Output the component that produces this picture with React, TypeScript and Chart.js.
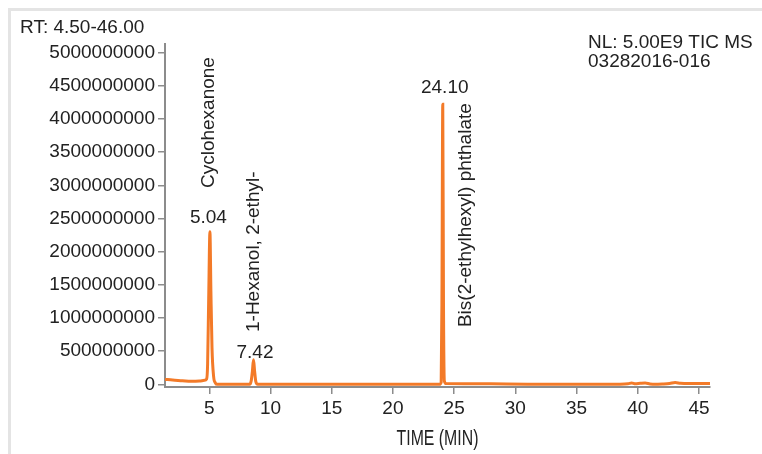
import React, { useEffect, useRef } from 'react';
import { Chart, registerables } from 'chart.js';

Chart.register(...registerables);

// ---- data ----
const retentionTimes = [
  1.38, 2.0, 2.8, 3.5, 4.2, 4.6, 4.78, 4.86, 4.95, 5.05, 5.13, 5.22, 5.35, 5.5, 5.65,
  7.0, 8.3, 8.42, 8.52, 8.61, 8.7, 8.8, 8.95, 12.0, 16.0, 20.0,
  23.8, 23.94, 24.0, 24.07, 24.13, 24.2, 24.35, 26.0, 28.0, 31.0, 35.0,
  38.5, 39.2, 39.5, 39.8, 40.2, 40.6, 41.0, 41.4, 42.0, 42.6, 43.05, 43.5, 44.2, 45.0, 45.9,
];
const intensities = [
  75e6, 65e6, 55e6, 45e6, 50e6, 60e6, 80e6, 300e6, 1300e6, 2300e6, 1400e6, 550e6, 120e6, 20e6, 0,
  0, 0, 50e6, 200e6, 370e6, 200e6, 40e6, 0, 0, 0, 0,
  0, 30e6, 1200e6, 4220e6, 1200e6, 50e6, 12e6, 10e6, 8e6, 3e6, 2e6,
  3e6, 8e6, 22e6, 8e6, 15e6, 20e6, 6e6, 0, 4e6, 12e6, 28e6, 15e6, 12e6, 12e6, 14e6,
];
const xTickValues = [5, 10, 15, 20, 25, 30, 35, 40, 45];
const yTickValues = [
  0, 500000000, 1000000000, 1500000000, 2000000000, 2500000000,
  3000000000, 3500000000, 4000000000, 4500000000, 5000000000,
];
const peakApexTimes = [5.05, 8.61, 24.07];
const peakLabels = ['5.04', '7.42', '24.10'];
const compoundNames = ['Cyclohexanone', '1-Hexanol, 2-ethyl-', 'Bis(2-ethylhexyl) phthalate'];
const headerLeft = 'RT: 4.50-46.00';
const headerRight = ['NL: 5.00E9 TIC MS', '03282016-016'];
const xAxisTitle = 'TIME (MIN)';

// ---- styles ----
const FONT = "'Liberation Sans', Arial, sans-serif";
const TEXT = '#222222';
const AXIS = '#8c8c8c';
const LINE = '#F37A28';
const CANVAS_W = 751;
const CANVAS_H = 443;
// per-peak label offsets (pixels, relative to apex pixel)
const labelOffsets = [
  { dx: -1.5, dy: -8.5 },
  { dx: 1.5, dy: -1.5 },
  { dx: 2, dy: -11 },
];
const nameOffsets = [
  { dx: 4.5, dy: -43.7 },
  { dx: 5.5, dy: -27.8 },
  { dx: 28, dy: 222.7 },
];

const annotPlugin = {
  id: 'annot',
  afterDatasetsDraw(chart: any) {
    const { ctx, scales, chartArea } = chart;
    const xs = scales.x;
    const ys = scales.y;
    ctx.save();
    ctx.fillStyle = TEXT;
    ctx.textBaseline = 'alphabetic';
    ctx.font = `19px ${FONT}`;
    peakApexTimes.forEach((t, i) => {
      const idx = retentionTimes.indexOf(t);
      const ax = xs.getPixelForValue(t);
      const ay = ys.getPixelForValue(intensities[idx]);
      ctx.textAlign = 'center';
      ctx.fillText(peakLabels[i], ax + labelOffsets[i].dx, ay + labelOffsets[i].dy);
      ctx.save();
      ctx.translate(ax + nameOffsets[i].dx, ay + nameOffsets[i].dy);
      ctx.rotate(-Math.PI / 2);
      ctx.textAlign = 'left';
      ctx.fillText(compoundNames[i], 0, 0);
      ctx.restore();
    });
    // headers
    ctx.textAlign = 'left';
    ctx.fillText(headerLeft, 9, 22);
    ctx.fillText(headerRight[0], 577, 37.3);
    ctx.fillText(headerRight[1], 577, 55.7);
    // x axis title (condensed)
    ctx.save();
    ctx.font = `22px ${FONT}`;
    ctx.translate((chartArea.left + chartArea.right) / 2, 434);
    ctx.scale(0.72, 1);
    ctx.textAlign = 'center';
    ctx.fillText(xAxisTitle, 0, 0);
    ctx.restore();
    ctx.restore();
  },
};

export default function App() {
  const ref = useRef<HTMLCanvasElement | null>(null);
  useEffect(() => {
    if (!ref.current) return;
    const points = retentionTimes.map((t, i) => ({ x: t, y: intensities[i] }));
    const chart = new Chart(ref.current, {
      type: 'line',
      data: {
        datasets: [
          {
            data: points,
            borderColor: LINE,
            borderWidth: 3,
            pointRadius: 0,
            fill: false,
            cubicInterpolationMode: 'monotone',
          },
        ],
      },
      options: {
        animation: false,
        responsive: false,
        devicePixelRatio: 1,
        layout: { padding: { top: 33, right: 52, left: 0, bottom: 0 } },
        plugins: { legend: { display: false }, tooltip: { enabled: false }, title: { display: false } },
        scales: {
          x: {
            type: 'linear',
            min: 1.38,
            max: 45.9,
            afterBuildTicks: (axis: any) => {
              axis.ticks = xTickValues.map((v) => ({ value: v }));
            },
            afterFit: (scale: any) => {
              scale.height = 67;
            },
            grid: { drawOnChartArea: false, drawTicks: true, tickLength: 7, color: AXIS, lineWidth: 1.5 },
            border: { display: true, color: AXIS, width: 2 },
            ticks: {
              font: { family: FONT, size: 19 },
              color: TEXT,
              padding: 3,
              maxRotation: 0,
              autoSkip: false,
              callback: (v: any) => String(v),
            },
          },
          y: {
            type: 'linear',
            min: -40000000,
            max: 5130000000,
            afterBuildTicks: (axis: any) => {
              axis.ticks = yTickValues.map((v) => ({ value: v }));
            },
            afterFit: (scale: any) => {
              scale.width = 154;
            },
            grid: { drawOnChartArea: false, drawTicks: true, tickLength: 7, color: AXIS, lineWidth: 1.5 },
            border: { display: true, color: AXIS, width: 2 },
            ticks: {
              font: { family: FONT, size: 19 },
              color: TEXT,
              padding: 3,
              autoSkip: false,
              callback: (v: any) => String(v),
            },
          },
        },
      },
      plugins: [annotPlugin],
    } as any);
    return () => chart.destroy();
  }, []);

  return (
    <div
      style={{
        position: 'absolute',
        left: 8,
        top: 8,
        borderLeft: '3px solid #e4e4e4',
        borderTop: '3px solid #e4e4e4',
        width: CANVAS_W,
        height: CANVAS_H,
        background: '#fff',
      }}
    >
      <canvas ref={ref} width={CANVAS_W} height={CANVAS_H} style={{ display: 'block' }} />
    </div>
  );
}
